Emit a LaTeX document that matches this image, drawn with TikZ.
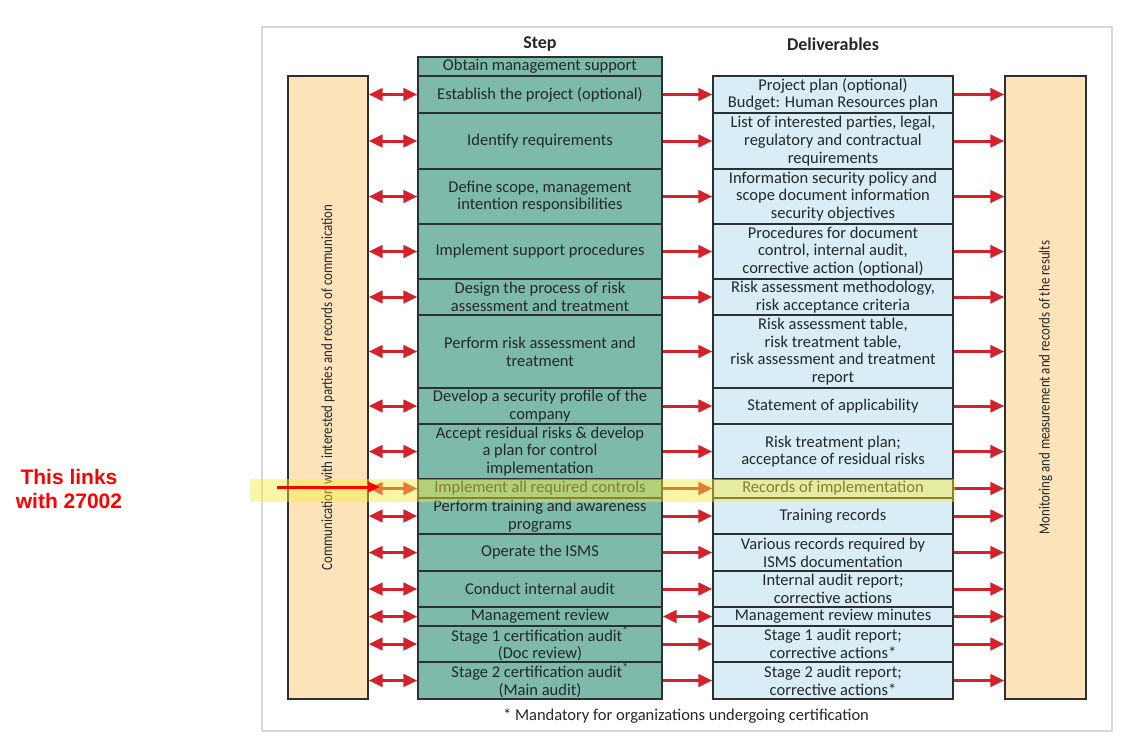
\documentclass[tikz,border=0pt]{standalone}
\usepackage{fontspec}
\setmainfont{Carlito}
\newfontfamily\condfont{Carlito}[FakeStretch=0.83]
\newfontfamily\calloutfont{Liberation Sans}
\usetikzlibrary{arrows.meta}
\definecolor{tealfill}{RGB}{126,186,172}
\definecolor{bluefill}{RGB}{216,237,245}
\definecolor{peach}{RGB}{253,227,186}
\definecolor{edge}{RGB}{45,48,48}
\definecolor{arrowred}{RGB}{212,34,44}
\definecolor{txt}{RGB}{35,40,40}
\definecolor{framegray}{RGB}{215,215,215}
\definecolor{hilite}{RGB}{245,236,60}

\begin{document}
\begin{tikzpicture}[x=1pt,y=-1pt,
  cell/.style={draw=edge, line width=1.4pt, inner sep=0pt, align=center, text=txt,
               font=\fontsize{16.5}{17.7}\selectfont},
  stepcell/.style={cell, fill=tealfill, minimum width=244pt},
  delcell/.style={cell, fill=bluefill, minimum width=240pt},
  sidebox/.style={draw=edge, line width=1.4pt, fill=peach, minimum width=80pt,
                  minimum height=623pt, inner sep=0pt},
  flow/.style={draw=arrowred, line width=3pt, -{Triangle[length=14pt,width=12.5pt]}},
  both/.style={flow, {Triangle[length=14pt,width=12.5pt]}-{Triangle[length=14pt,width=12.5pt]}},
  header/.style={font=\bfseries\fontsize{18}{20}\selectfont, text=txt},
  sidetext/.style={rotate=90, text=txt, font=\condfont\fontsize{15.5}{16}\selectfont},
]
\useasboundingbox (0,0) rectangle (1122,742);
\fill[white] (0,0) rectangle (1122,742);

% outer frame
\draw[framegray, line width=2pt] (262,27) rectangle (1112,731);

% column headers
\node[header] (hstep) at (540,44) {Step};
\node[header] (hdel) at (833,44) {Deliverables};

% side boxes
\node[sidebox] (lbox) at (328,387.5) {};
\node[sidebox, minimum width=81pt] (rbox) at (1045.5,387.5) {};
\node[sidetext] (ltext) at (lbox.center) {Communication with interested parties and records of communication};
\node[sidetext] (rtext) at (rbox.center) {Monitoring and measurement and records of the results};

% steps
\node[stepcell, minimum height=19pt] (s0) at (540,66.5) {Obtain management support};
\node[stepcell, minimum height=37pt] (s1) at (540,94.5) {Establish the project (optional)};
\node[stepcell, minimum height=56pt] (s2) at (540,141) {Identify requirements};
\node[stepcell, minimum height=55pt] (s3) at (540,196.5) {Define scope, management\\intention responsibilities};
\node[stepcell, minimum height=55pt] (s4) at (540,251.5) {Implement support procedures};
\node[stepcell, minimum height=36pt] (s5) at (540,297) {Design the process of risk\\assessment and treatment};
\node[stepcell, minimum height=73pt] (s6) at (540,351.5) {Perform risk assessment and\\treatment};
\node[stepcell, minimum height=36pt] (s7) at (540,406) {Develop a security profile of the\\company};
\node[stepcell, minimum height=55pt] (s8) at (540,451.5) {Accept residual risks \& develop\\a plan for control\\implementation};
\node[stepcell, minimum height=19pt] (s9) at (540,488.5) {Implement all required controls};
\node[stepcell, minimum height=36pt] (s10) at (540,516) {Perform training and awareness\\programs};
\node[stepcell, minimum height=37pt] (s11) at (540,552.5) {Operate the ISMS};
\node[stepcell, minimum height=36pt] (s12) at (540,589) {Conduct internal audit};
\node[stepcell, minimum height=19pt] (s13) at (540,616.5) {Management review};
\node[stepcell, minimum height=36pt] (s14) at (540,644) {Stage 1 certification audit\textsuperscript{*}\\(Doc review)};
\node[stepcell, minimum height=37pt] (s15) at (540,680.5) {Stage 2 certification audit\textsuperscript{*}\\(Main audit)};

% deliverables
\node[delcell, minimum height=37pt] (d1) at (833,94.5) {Project plan (optional)\\Budget: Human Resources plan};
\node[delcell, minimum height=56pt] (d2) at (833,141) {List of interested parties, legal,\\regulatory and contractual\\requirements};
\node[delcell, minimum height=55pt] (d3) at (833,196.5) {Information security policy and\\scope document information\\security objectives};
\node[delcell, minimum height=55pt] (d4) at (833,251.5) {Procedures for document\\control, internal audit,\\corrective action (optional)};
\node[delcell, minimum height=36pt] (d5) at (833,297) {Risk assessment methodology,\\risk acceptance criteria};
\node[delcell, minimum height=73pt] (d6) at (833,351.5) {Risk assessment table,\\risk treatment table,\\risk assessment and treatment\\report};
\node[delcell, minimum height=36pt] (d7) at (833,406) {Statement of applicability};
\node[delcell, minimum height=55pt] (d8) at (833,451.5) {Risk treatment plan;\\acceptance of residual risks};
\node[delcell, minimum height=19pt] (d9) at (833,488.5) {Records of implementation};
\node[delcell, minimum height=36pt] (d10) at (833,516) {Training records};
\node[delcell, minimum height=37pt] (d11) at (833,552.5) {Various records required by\\ISMS documentation};
\node[delcell, minimum height=36pt] (d12) at (833,589) {Internal audit report;\\corrective actions};
\node[delcell, minimum height=19pt] (d13) at (833,616.5) {Management review minutes};
\node[delcell, minimum height=36pt] (d14) at (833,644) {Stage 1 audit report;\\corrective actions*};
\node[delcell, minimum height=37pt] (d15) at (833,680.5) {Stage 2 audit report;\\corrective actions*};

% connectors
\foreach \i in {1,...,15}{
  \draw[both] (lbox.east |- s\i.west) -- (s\i.west);
  \draw[flow] (d\i.east) -- (rbox.west |- d\i.east);
}
\foreach \i in {1,...,12,14,15}{
  \draw[flow] (s\i.east) -- (d\i.west);
}
\draw[both] (s13.east) -- (d13.west);

% footnote
\node[text=txt, font=\fontsize{16.5}{18}\selectfont] (foot) at (686,716) {* Mandatory for organizations undergoing certification};

% highlighted row
\fill[hilite, opacity=0.45] (250,479) rectangle (955,502);

% callout
\node[text=red, align=center, font=\calloutfont\bfseries\fontsize{21}{24}\selectfont] (callout) at (69,489) {This links\\with 27002};
\coordinate (ptail) at (277,487);
\coordinate (phead) at (380,487);
\draw[draw=red, line width=3pt, -{Triangle[length=12pt,width=10pt]}] (ptail) -- (phead);
\end{tikzpicture}
\end{document}
